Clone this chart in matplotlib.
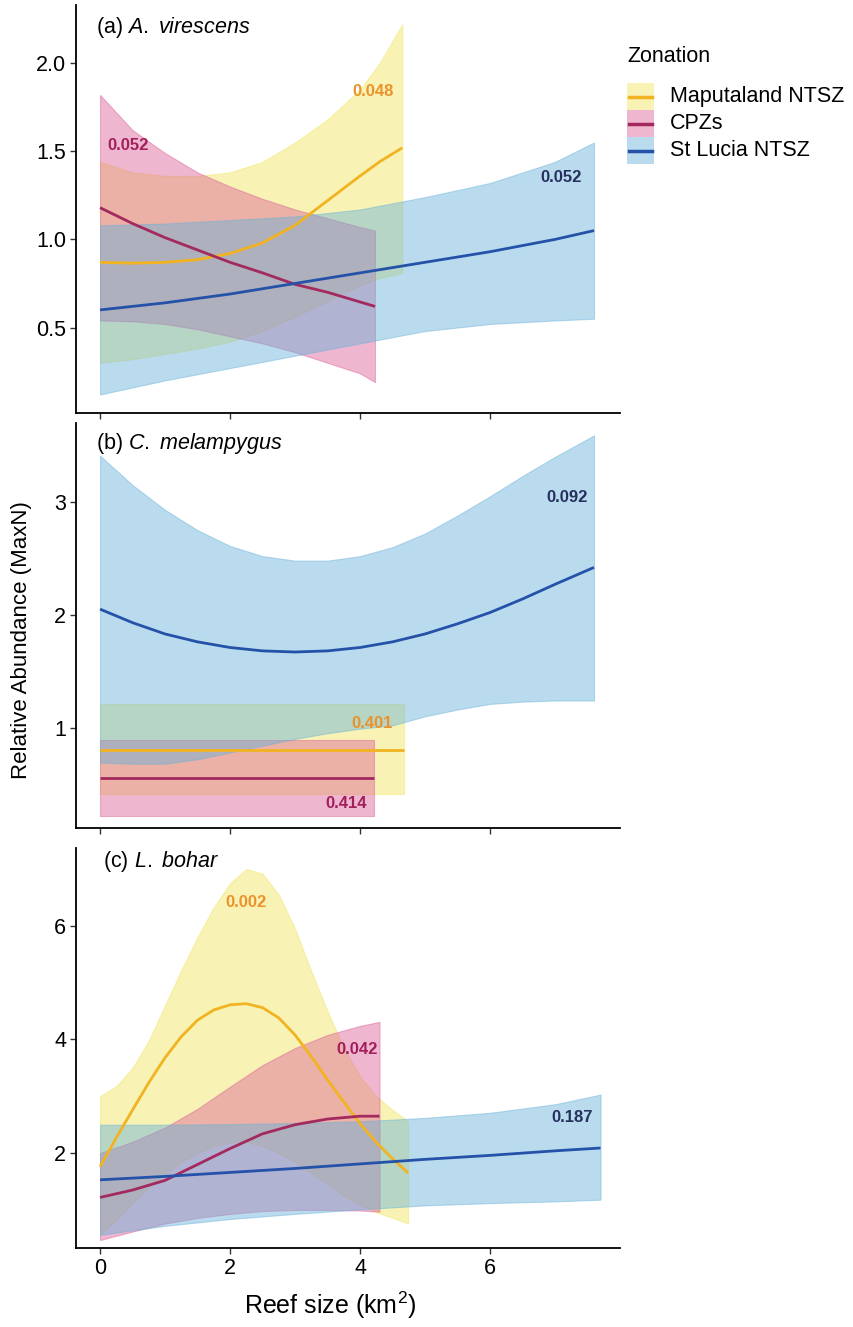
import matplotlib
matplotlib.use("Agg")
import matplotlib.pyplot as plt
from matplotlib.patches import Rectangle
from matplotlib.lines import Line2D

plt.rcParams['font.family'] = ['Liberation Sans', 'DejaVu Sans']
plt.rcParams['mathtext.fontset'] = 'custom'
plt.rcParams['mathtext.rm'] = 'Liberation Sans'
plt.rcParams['mathtext.it'] = 'Liberation Sans:italic'

zones = ["Maputaland NTSZ", "CPZs", "St Lucia NTSZ"]
fill_colors = ["#F0E55C", "#DC5F95", "#67B1DA"]
line_colors = ["#F2B320", "#A32A5E", "#2452A8"]
label_colors = ["#EB932A", "#A21F5C", "#26305F"]

# ---- (a) A. virescens ----
a_yel_x = [0, 0.5, 1, 1.5, 2, 2.5, 3, 3.5, 4, 4.3, 4.65]
a_yel_y = [0.87, 0.865, 0.87, 0.885, 0.92, 0.98, 1.08, 1.22, 1.36, 1.44, 1.52]
a_yel_lo = [0.30, 0.32, 0.35, 0.38, 0.42, 0.48, 0.56, 0.65, 0.74, 0.78, 0.81]
a_yel_hi = [1.44, 1.38, 1.36, 1.36, 1.38, 1.44, 1.55, 1.68, 1.85, 2.00, 2.22]

a_pink_x = [0, 0.5, 1, 1.5, 2, 2.5, 3, 3.5, 4, 4.23]
a_pink_y = [1.18, 1.09, 1.01, 0.94, 0.87, 0.81, 0.745, 0.70, 0.645, 0.62]
a_pink_lo = [0.54, 0.535, 0.52, 0.49, 0.45, 0.41, 0.36, 0.30, 0.24, 0.19]
a_pink_hi = [1.82, 1.62, 1.49, 1.38, 1.30, 1.23, 1.17, 1.12, 1.07, 1.05]

a_blue_x = [0, 1, 2, 3, 4, 5, 6, 7, 7.6]
a_blue_y = [0.60, 0.64, 0.69, 0.75, 0.81, 0.87, 0.93, 1.00, 1.05]
a_blue_lo = [0.12, 0.20, 0.27, 0.34, 0.41, 0.48, 0.52, 0.54, 0.55]
a_blue_hi = [1.08, 1.09, 1.11, 1.13, 1.17, 1.24, 1.32, 1.44, 1.55]

# ---- (b) C. melampygus ----
b_yel_x = [0, 4.67]
b_yel_y = [0.80, 0.80]
b_yel_lo = [0.41, 0.41]
b_yel_hi = [1.21, 1.21]

b_pink_x = [0, 4.22]
b_pink_y = [0.555, 0.555]
b_pink_lo = [0.215, 0.215]
b_pink_hi = [0.89, 0.89]

b_blue_x = [0, 0.5, 1, 1.5, 2, 2.5, 3, 3.5, 4, 4.5, 5, 5.5, 6, 6.5, 7, 7.6]
b_blue_y = [2.05, 1.93, 1.83, 1.76, 1.71, 1.68, 1.67, 1.68, 1.71, 1.76, 1.83, 1.92, 2.02, 2.14, 2.27, 2.42]
b_blue_lo = [0.69, 0.68, 0.68, 0.72, 0.78, 0.84, 0.90, 0.95, 0.99, 1.02, 1.10, 1.16, 1.21, 1.23, 1.24, 1.24]
b_blue_hi = [3.41, 3.15, 2.93, 2.75, 2.61, 2.52, 2.48, 2.48, 2.52, 2.60, 2.72, 2.88, 3.05, 3.23, 3.40, 3.59]

# ---- (c) L. bohar ----
c_yel_x = [0, 0.25, 0.5, 0.75, 1, 1.25, 1.5, 1.75, 2, 2.25, 2.5, 2.75, 3, 3.25, 3.5, 3.75, 4, 4.25, 4.5, 4.74]
c_yel_y = [1.76, 2.27, 2.76, 3.24, 3.68, 4.05, 4.34, 4.52, 4.61, 4.63, 4.56, 4.38, 4.08, 3.70, 3.29, 2.90, 2.52, 2.19, 1.90, 1.65]
c_yel_lo = [0.56, 0.83, 1.12, 1.40, 1.63, 1.84, 2.00, 2.12, 2.19, 2.20, 2.12, 2.00, 1.84, 1.65, 1.45, 1.24, 1.09, 0.96, 0.86, 0.76]
c_yel_hi = [3.00, 3.18, 3.50, 3.98, 4.60, 5.22, 5.80, 6.33, 6.75, 7.00, 6.92, 6.55, 5.95, 5.20, 4.50, 3.85, 3.35, 3.00, 2.76, 2.56]

c_pink_x = [0, 0.5, 1, 1.5, 2, 2.5, 3, 3.5, 4, 4.3]
c_pink_y = [1.22, 1.35, 1.52, 1.80, 2.08, 2.34, 2.50, 2.60, 2.65, 2.65]
c_pink_lo = [0.47, 0.62, 0.76, 0.86, 0.93, 0.98, 1.00, 1.00, 0.99, 0.97]
c_pink_hi = [2.00, 2.20, 2.45, 2.78, 3.17, 3.55, 3.85, 4.08, 4.24, 4.31]

c_blue_x = [0, 1, 2, 3, 4, 5, 6, 7, 7.7]
c_blue_y = [1.53, 1.59, 1.66, 1.73, 1.81, 1.89, 1.96, 2.04, 2.09]
c_blue_lo = [0.56, 0.72, 0.84, 0.93, 1.01, 1.08, 1.12, 1.15, 1.18]
c_blue_hi = [2.50, 2.50, 2.51, 2.53, 2.56, 2.62, 2.71, 2.86, 3.03]

panels = [
    {"title": "(a) ", "species": "A. virescens", "ylim": (0.015, 2.33),
     "yticks": [0.5, 1.0, 1.5, 2.0], "yfmt": "{:.1f}",
     "series": [(a_yel_x, a_yel_y, a_yel_lo, a_yel_hi),
                (a_pink_x, a_pink_y, a_pink_lo, a_pink_hi),
                (a_blue_x, a_blue_y, a_blue_lo, a_blue_hi)],
     "labels": [("0.048", 4.2, 1.84), ("0.052", 0.43, 1.53), ("0.052", 7.1, 1.35)]},
    {"title": "(b) ", "species": "C. melampygus", "ylim": (0.11, 3.70),
     "yticks": [1, 2, 3], "yfmt": "{:d}",
     "series": [(b_yel_x, b_yel_y, b_yel_lo, b_yel_hi),
                (b_pink_x, b_pink_y, b_pink_lo, b_pink_hi),
                (b_blue_x, b_blue_y, b_blue_lo, b_blue_hi)],
     "labels": [("0.401", 4.18, 1.04), ("0.414", 3.79, 0.33), ("0.092", 7.18, 3.04)]},
    {"title": "(c) ", "species": "L. bohar", "ylim": (0.33, 7.37),
     "yticks": [2, 4, 6], "yfmt": "{:d}",
     "series": [(c_yel_x, c_yel_y, c_yel_lo, c_yel_hi),
                (c_pink_x, c_pink_y, c_pink_lo, c_pink_hi),
                (c_blue_x, c_blue_y, c_blue_lo, c_blue_hi)],
     "labels": [("0.002", 2.25, 6.41), ("0.042", 3.96, 3.83), ("0.187", 7.26, 2.63)]},
]

W, H = 854, 1327
fig = plt.figure(figsize=(W / 100, H / 100), dpi=100)

boxes = [(5, 413), (423, 828), (848, 1248)]
left, right = 76, 620
title_pos = [(0.037, 0.945), (0.037, 0.95), (0.05, 0.965)]

for i, (p, (top, bot)) in enumerate(zip(panels, boxes)):
    ax = fig.add_axes([left / W, 1 - bot / H, (right - left) / W, (bot - top) / H])
    for k, (x, y, lo, hi) in enumerate(p["series"]):
        ax.fill_between(x, lo, hi, facecolor=fill_colors[k], alpha=0.45,
                        edgecolor=fill_colors[k], linewidth=0.8)
        ax.plot(x, y, color=line_colors[k], lw=2.0, solid_capstyle='butt',
                solid_joinstyle='round')
    for k, (txt, tx, ty) in enumerate(p["labels"]):
        ax.text(tx, ty, txt, color=label_colors[k], fontsize=12, fontweight='bold',
                ha='center', va='center')
    ax.set_xlim(-0.37, 8.0)
    ax.set_ylim(*p["ylim"])
    ax.set_xticks([0, 2, 4, 6])
    ax.set_yticks(p["yticks"])
    ax.set_yticklabels([p["yfmt"].format(v) for v in p["yticks"]])
    if i < 2:
        ax.set_xticklabels([])
    else:
        ax.set_xticklabels(["0", "2", "4", "6"])
    for s in ["top", "right"]:
        ax.spines[s].set_visible(False)
    for s in ["left", "bottom"]:
        ax.spines[s].set_linewidth(1.3)
    ax.tick_params(labelsize=15.5, length=4, width=1.0, color='#333333', pad=3)
    tx, ty = title_pos[i]
    ax.text(tx, ty, p["title"] + r"$\it{" + p["species"].replace(" ", r"\ ") + "}$",
            transform=ax.transAxes, fontsize=15.5, ha='left', va='center')

fig.text(22 / W, 1 - 640 / H, "Relative Abundance (MaxN)", rotation=90,
         ha='center', va='center', fontsize=16)
fig.text(330 / W, 1 - 1305 / H, r"Reef size (km$^2$)", ha='center', va='center', fontsize=18)

# legend drawn by hand in figure pixels
fig.text(627 / W, 1 - 57 / H, "Zonation", ha='left', va='center', fontsize=15.5)
key_x, key_w, key_h, row0 = 627, 27, 27, 83
for k, name in enumerate(zones):
    y_top = row0 + k * key_h
    fig.add_artist(Rectangle((key_x / W, 1 - (y_top + key_h) / H), key_w / W, key_h / H,
                             transform=fig.transFigure, facecolor=fill_colors[k],
                             alpha=0.45, edgecolor='none'))
    yc = 1 - (y_top + key_h / 2) / H
    fig.add_artist(Line2D([(key_x + 2) / W, (key_x + key_w - 2) / W], [yc, yc],
                          transform=fig.transFigure, color=line_colors[k], lw=2.5))
    fig.text(670 / W, yc, name, ha='left', va='center', fontsize=15.5)

fig.savefig("out.png", dpi=100)
